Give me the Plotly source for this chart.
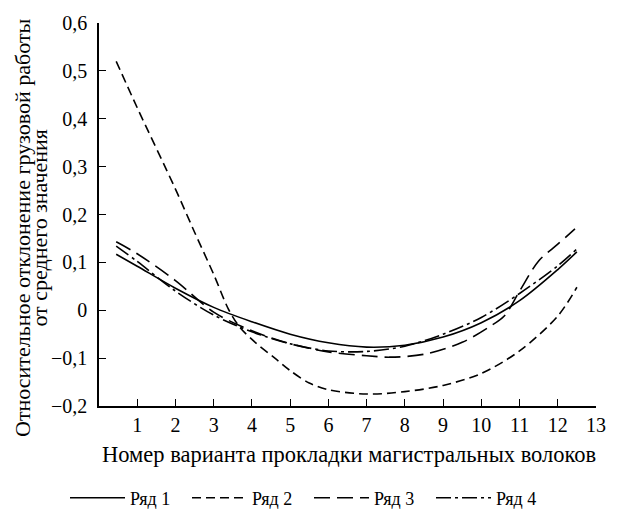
import plotly.graph_objects as go

# Data
x_common = [0.45, 1, 2, 3, 4, 5, 6, 7, 8, 9, 10, 11, 12, 12.5]
row1 = [0.117, 0.092, 0.046, 0.006, -0.024, -0.05, -0.068, -0.077, -0.073, -0.056, -0.026, 0.02, 0.085, 0.122]
x_row2 = [0.45, 1, 2, 2.5, 3, 3.4, 3.7, 4.1, 4.6, 5, 5.5, 6, 7, 8, 9, 10, 11, 12, 12.5]
row2 = [0.52, 0.423, 0.253, 0.163, 0.075, 0.0, -0.037, -0.068, -0.1, -0.126, -0.152, -0.166, -0.175, -0.17, -0.157, -0.132, -0.085, -0.012, 0.048]
x_row3 = [0.45, 1, 2, 3, 4, 5, 6, 7, 7.6, 8.5, 9.5, 10.2, 10.6, 11.0, 11.5, 12.0, 12.45]
row3 = [0.143, 0.118, 0.062, -0.004, -0.043, -0.07, -0.087, -0.095, -0.098, -0.092, -0.067, -0.035, -0.012, 0.04, 0.103, 0.138, 0.17]
row4 = [0.134, 0.102, 0.04, -0.01, -0.045, -0.07, -0.085, -0.086, -0.075, -0.05, -0.015, 0.035, 0.093, 0.128]

names = ["Ряд 1", "Ряд 2", "Ряд 3", "Ряд 4"]
y_tickvals = [-0.2, -0.1, 0, 0.1, 0.2, 0.3, 0.4, 0.5, 0.6]
y_ticktext = ["−0,2", "−0,1", "0", "0,1", "0,2", "0,3", "0,4", "0,5", "0,6"]
x_tickvals = list(range(1, 14))
x_title = "Номер варианта прокладки магистральных волоков"
y_title_lines = ["Относительное отклонение грузовой работы", "от среднего значения"]

FONT = "Liberation Serif, Times New Roman, serif"

fig = go.Figure()
series = [
    (x_common, row1, "solid"),
    (x_row2, row2, "9px,5px"),
    (x_row3, row3, "16px,7px"),
    (x_common, row4, "15px,4px,3px,4px"),
]
for (xs, ys, dash), nm in zip(series, names):
    fig.add_trace(go.Scatter(
        x=xs, y=ys, name=nm, mode="lines",
        line=dict(color="black", width=1.6, dash=dash, shape="spline", smoothing=0.9),
    ))

fig.update_layout(
    width=618, height=509,
    margin=dict(l=99, r=12, t=21, b=103),
    paper_bgcolor="white", plot_bgcolor="white",
    font=dict(family=FONT, size=17, color="black"),
    showlegend=True,
    legend=dict(
        orientation="h", xref="container", yref="container",
        x=0.5, xanchor="center", y=(509 - 498) / 509, yanchor="middle",
        font=dict(size=18), itemwidth=55, entrywidth=52,
        bgcolor="rgba(0,0,0,0)",
    ),
)
fig.update_xaxes(
    range=[0, 13], tickvals=x_tickvals, ticks="inside", ticklen=7, tickwidth=1.2,
    tickcolor="black", showline=True, linecolor="black", linewidth=1.5,
    showgrid=False, zeroline=False, tickfont=dict(size=20), ticklabelstandoff=0,
)
fig.update_yaxes(
    range=[-0.2, 0.6], tickvals=y_tickvals, ticktext=y_ticktext, ticks="inside", ticklen=7,
    tickwidth=1.2, tickcolor="black", showline=True, linecolor="black", linewidth=1.5,
    showgrid=False, zeroline=False, tickfont=dict(size=20), ticklabelstandoff=6,
)

# axis titles as annotations for exact placement
fig.add_annotation(text=x_title, xref="paper", yref="paper",
                   x=(354 - 98.7) / 507.3, y=(405.7 - 454) / 384.7,
                   xanchor="center", yanchor="middle", showarrow=False,
                   font=dict(size=22.5))
for txt, xc in zip(y_title_lines, [20, 38]):
    fig.add_annotation(text=txt, xref="paper", yref="paper", textangle=-90,
                       x=(xc - 98.7) / 507.3, y=(405.7 - 227) / 384.7,
                       xanchor="center", yanchor="middle", showarrow=False,
                       font=dict(size=22))

fig.write_html("out.html")
